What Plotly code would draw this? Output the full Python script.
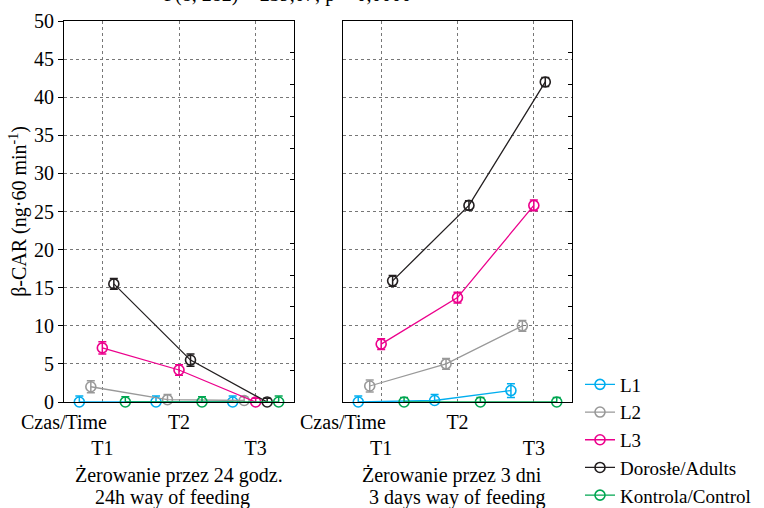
import plotly.graph_objects as go

times = ["T1", "T2", "T3"]
series_names = ["L1", "L2", "L3", "Dorosłe/Adults", "Kontrola/Control"]
colors = ["#00AEEF", "#999999", "#EC008C", "#231F20", "#00A651"]

# 24h feeding panel
left_vals = {
    "L1": [0.0, 0.0, 0.0],
    "L2": [2.0, 0.3, 0.2],
    "L3": [7.1, 4.2, 0.0],
    "Dorosłe/Adults": [15.5, 5.5, 0.0],
    "Kontrola/Control": [0.0, 0.0, 0.0],
}
left_err = {
    "L1": [0.8, 0.8, 0.8],
    "L2": [0.8, 0.7, 0.5],
    "L3": [0.8, 0.7, 0.5],
    "Dorosłe/Adults": [0.7, 0.8, 0.5],
    "Kontrola/Control": [0.7, 0.7, 0.8],
}
# 3 days feeding panel
right_vals = {
    "L1": [0.0, 0.2, 1.5],
    "L2": [2.1, 5.0, 10.0],
    "L3": [7.6, 13.7, 25.8],
    "Dorosłe/Adults": [15.9, 25.8, 42.0],
    "Kontrola/Control": [0.0, 0.0, 0.0],
}
right_err = {
    "L1": [0.8, 0.8, 0.9],
    "L2": [0.8, 0.7, 0.7],
    "L3": [0.7, 0.7, 0.7],
    "Dorosłe/Adults": [0.7, 0.6, 0.6],
    "Kontrola/Control": [0.6, 0.6, 0.6],
}

FONT = "Liberation Serif"
offsets = [-0.3, -0.15, 0.0, 0.15, 0.3]
base_x = [1, 2, 3]

fig = go.Figure()
for i, name in enumerate(series_names):
    for panel, (vals, errs, xa, ya) in enumerate(
        [(left_vals, left_err, "x", "y"), (right_vals, right_err, "x2", "y2")]
    ):
        fig.add_trace(go.Scatter(
            x=[b + offsets[i] for b in base_x],
            y=vals[name],
            xaxis=xa, yaxis=ya,
            mode="lines+markers",
            name=name,
            legendgroup=name,
            showlegend=(panel == 0),
            line=dict(color=colors[i], width=1.3),
            marker=dict(symbol="circle-open", size=10, color=colors[i], line=dict(width=1.6)),
            error_y=dict(type="data", array=errs[name], visible=True,
                         color=colors[i], thickness=1.5, width=4),
            cliponaxis=False,
        ))

# dummy traces so overlay axes render
fig.add_trace(go.Scatter(x=[None], y=[None], xaxis="x", yaxis="y3", showlegend=False, hoverinfo="skip"))
fig.add_trace(go.Scatter(x=[None], y=[None], xaxis="x2", yaxis="y4", showlegend=False, hoverinfo="skip"))

tickvals = [0.5, 1, 2, 3]
ticktext = ["Czas/Time", "<br>" + times[0], times[1], "<br>" + times[2]]

xcommon = dict(range=[0.5, 3.5], tickvals=tickvals, ticktext=ticktext, tickangle=0,
               showline=True, linecolor="black", linewidth=1.2, mirror=True,
               showgrid=True, gridcolor="#777777", griddash="dot", gridwidth=1,
               ticks="", zeroline=False, automargin=False, ticklabelstandoff=2,
               tickfont=dict(family=FONT, size=20, color="black"))
ycommon = dict(range=[0, 50], dtick=5,
               showline=True, linecolor="black", linewidth=1.2, mirror=True,
               showgrid=True, gridcolor="#777777", griddash="dot", gridwidth=1,
               zeroline=False, automargin=False,
               tickfont=dict(family=FONT, size=20, color="black"))

fig.update_layout(
    width=764, height=508,
    margin=dict(l=64, r=192, t=21, b=106, autoexpand=False),
    plot_bgcolor="white", paper_bgcolor="white",
    font=dict(family=FONT, size=20, color="black"),
    xaxis=dict(domain=[0, 230 / 508], anchor="y", **xcommon),
    xaxis2=dict(domain=[279 / 508, 1.0], anchor="y2", **xcommon),
    yaxis=dict(anchor="x", ticks="outside", ticklen=5, tickcolor="black",
               title=dict(text="β-CAR (ng·60 min<sup>-1</sup>)",
                          font=dict(family=FONT, size=20), standoff=1),
               **ycommon),
    yaxis2=dict(anchor="x2", showticklabels=False, ticks="", **ycommon),
    yaxis3=dict(overlaying="y", anchor="x", side="right", range=[0, 12], dtick=1,
                ticks="inside", ticklen=4, tickcolor="black", showticklabels=False,
                showgrid=False, zeroline=False, showline=False, automargin=False),
    yaxis4=dict(overlaying="y2", anchor="x2", side="right", range=[0, 12], dtick=1,
                ticks="inside", ticklen=4, tickcolor="black", showticklabels=False,
                showgrid=False, zeroline=False, showline=False, automargin=False),
    legend=dict(x=(580 - 64) / 508, y=-(440 - 402) / 381, xanchor="left", yanchor="middle",
                font=dict(family=FONT, size=19, color="black"),
                bgcolor="rgba(0,0,0,0)", tracegroupgap=0, itemwidth=30),
    showlegend=True,
)

annotations = [
    dict(text="F(8, 282) = 239,07; p = 0,0000", xref="paper", yref="paper",
         x=(288 - 64) / 508, y=1 + 13 / 381, xanchor="center", yanchor="bottom",
         showarrow=False, font=dict(family=FONT, size=20)),
    dict(text="Żerowanie przez 24 godz.", xref="paper", yref="paper",
         x=(179 - 64) / 508, y=-(475 - 402) / 381, xanchor="center", yanchor="middle",
         showarrow=False, font=dict(family=FONT, size=20)),
    dict(text="24h way of feeding", xref="paper", yref="paper",
         x=(172 - 64) / 508, y=-(497 - 402) / 381, xanchor="center", yanchor="middle",
         showarrow=False, font=dict(family=FONT, size=20)),
    dict(text="Żerowanie przez 3 dni", xref="paper", yref="paper",
         x=(452 - 64) / 508, y=-(475 - 402) / 381, xanchor="center", yanchor="middle",
         showarrow=False, font=dict(family=FONT, size=20)),
    dict(text="3 days way of feeding", xref="paper", yref="paper",
         x=(457 - 64) / 508, y=-(497 - 402) / 381, xanchor="center", yanchor="middle",
         showarrow=False, font=dict(family=FONT, size=20)),
]
fig.update_layout(annotations=annotations)

fig.write_html("out.html")
